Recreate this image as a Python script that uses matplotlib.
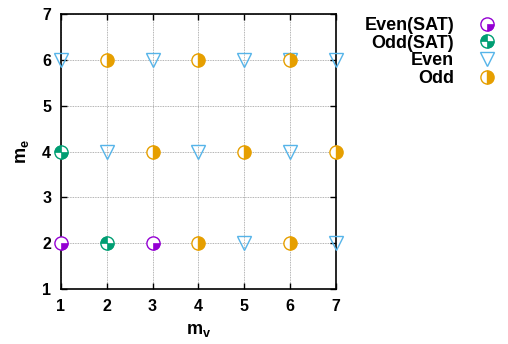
import matplotlib
matplotlib.use('Agg')
import matplotlib.pyplot as plt
from matplotlib.path import Path
from matplotlib.legend_handler import HandlerTuple

plt.rcParams['font.family'] = 'Liberation Sans'
plt.rcParams['font.weight'] = 'bold'
plt.rcParams['mathtext.fontset'] = 'custom'
plt.rcParams['mathtext.bf'] = 'Liberation Sans:bold'
plt.rcParams['mathtext.rm'] = 'Liberation Sans:bold'
plt.rcParams['mathtext.it'] = 'Liberation Sans:bold'

# points (m_v, m_e) per series
even_sat_v = [1, 3]
even_sat_e = [2, 2]
odd_sat_v = [2, 1]
odd_sat_e = [2, 4]
even_v = [5, 7, 2, 4, 6, 1, 3, 5, 7, 6]
even_e = [2, 2, 4, 4, 4, 6, 6, 6, 6, 6]
odd_v = [4, 6, 3, 5, 7, 2, 4, 6]
odd_e = [2, 2, 4, 4, 4, 6, 6, 6]

ticks = [1, 2, 3, 4, 5, 6, 7]

purple = '#9400d3'
green = '#009e73'
blue = '#56b4e9'
orange = '#e69f00'

# quadrant markers (gnuplot style circles)
q_lr = Path.wedge(270, 360)
q_two = Path.make_compound_path(Path.wedge(90, 180), Path.wedge(270, 360))

fig = plt.figure(figsize=(5.08, 3.44), dpi=100)
ax = fig.add_axes([0.120, 0.160, 0.541, 0.799])

ms = 9.5
common = dict(linestyle='none', clip_on=False, zorder=3)

c1, = ax.plot(even_sat_v, even_sat_e, marker='o', ms=ms, mfc='white', mec=purple, mew=1, **common)
w1, = ax.plot(even_sat_v, even_sat_e, marker=q_lr, ms=ms, mfc=purple, mec=purple, mew=0.5, **common)
c2, = ax.plot(odd_sat_v, odd_sat_e, marker='o', ms=ms, mfc='white', mec=green, mew=1, **common)
w2, = ax.plot(odd_sat_v, odd_sat_e, marker=q_two, ms=ms, mfc=green, mec=green, mew=0.5, **common)
t3, = ax.plot(even_v, even_e, marker='v', ms=ms, mfc='none', mec=blue, mew=1, **common)
o4, = ax.plot(odd_v, odd_e, marker='o', ms=ms, fillstyle='right', mfc=orange,
              markerfacecoloralt='white', mec=orange, mew=1, **common)

ax.set_xlim(1, 7)
ax.set_ylim(1, 7)
ax.set_xticks(ticks)
ax.set_yticks(ticks)
ax.tick_params(direction='in', length=4, width=1, top=True, right=True, labelsize=11.5, pad=7)
ax.grid(True, color='#9a9a9a', linestyle=(0, (1, 1)), linewidth=0.6)
for s in ax.spines.values():
    s.set_linewidth(1.2)

ax.set_xlabel(r'$\mathbf{m_v}$', fontsize=13, labelpad=6)
ax.set_ylabel(r'$\mathbf{m_e}$', fontsize=13, labelpad=8)

leg = ax.legend([(c1, w1), (c2, w2), t3, o4], ['Even(SAT)', 'Odd(SAT)', 'Even', 'Odd'],
                handler_map={tuple: HandlerTuple(ndivide=1)},
                markerfirst=False, frameon=False, loc='upper right',
                bbox_to_anchor=(1.004, 0.977), bbox_transform=fig.transFigure,
                fontsize=13, handlelength=1.5, handletextpad=1.1,
                labelspacing=0.04, borderpad=0)

fig.savefig('out.png', dpi=100)
